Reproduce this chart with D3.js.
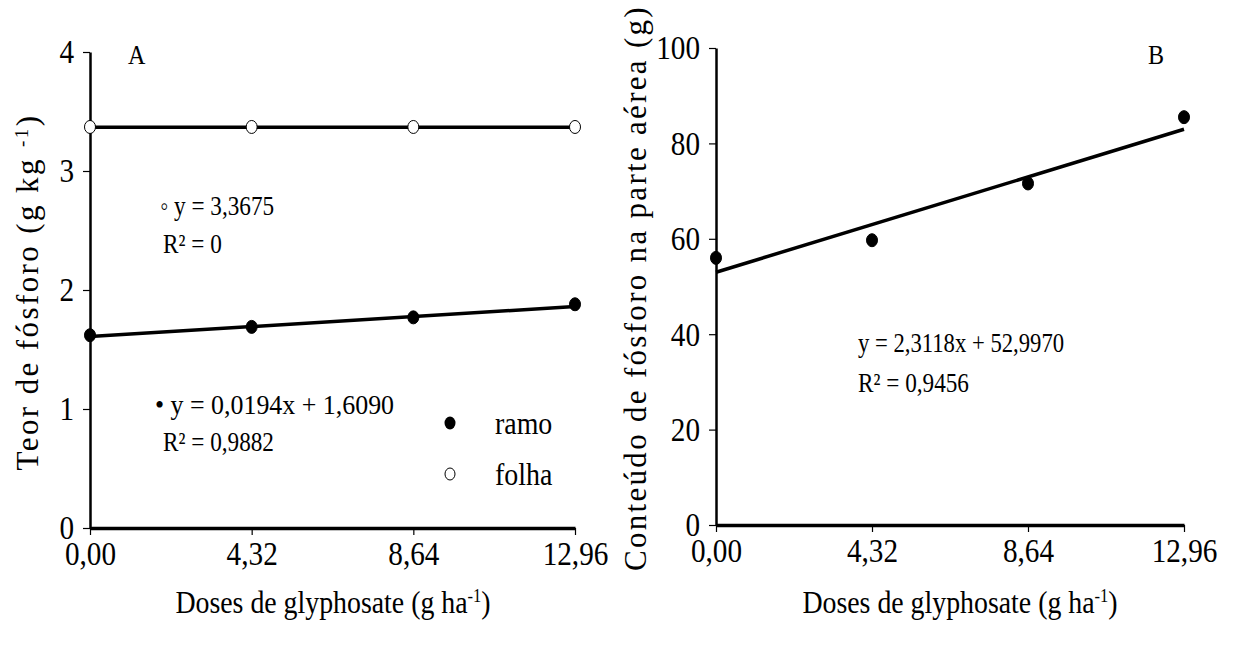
<!DOCTYPE html>
<html>
<head>
<meta charset="utf-8">
<script src="https://d3js.org/d3.v7.min.js"></script>
<style>
  body { margin: 0; background: #fff; }
  svg text { font-family: "Liberation Serif", "Times New Roman", serif; fill: #000; }
</style>
</head>
<body>
<svg id="chart" width="1245" height="646"></svg>
<script>

// data
var doses = [0, 4.32, 8.64, 12.96];
var doseLabels = ["0,00", "4,32", "8,64", "12,96"];
var ramo = [1.62, 1.69, 1.77, 1.88];
var folha = [3.37, 3.37, 3.37, 3.37];
var conteudo = [56.0, 59.7, 71.6, 85.5];
var ramoFit = {a: 0.0194, b: 1.6090};
var folhaFit = {a: 0, b: 3.3675};
var conteudoFit = {a: 2.3118, b: 52.9970};
var ticksA = [0, 1, 2, 3, 4];
var ticksB = [0, 20, 40, 60, 80, 100];

var svg = d3.select("#chart");
var SQ = 0.86;   // the original font is a bit narrow, squeeze it

function fmtComma(d) { return String(d).replace(".", ","); }

function drawAxes(x, y, yTicks) {
  var gx = svg.append("g")
      .attr("transform", "translate(0," + y.range()[0] + ")")
      .call(d3.axisBottom(x).tickValues(doses).tickSize(7).tickSizeOuter(0)
        .tickFormat(function(d, i) { return doseLabels[i]; }));
  gx.attr("font-family", null).attr("font-size", null);
  gx.select(".domain").attr("stroke-width", 3.5);
  gx.selectAll(".tick line").attr("stroke-width", 1.2);
  gx.selectAll(".tick text").attr("font-size", 34).attr("transform", "scale(" + SQ + ",1)")
      .attr("y", 37).attr("dy", 0);

  var gy = svg.append("g")
      .attr("transform", "translate(" + x.range()[0] + ",0)")
      .call(d3.axisLeft(y).tickValues(yTicks).tickSize(7).tickSizeOuter(0)
        .tickFormat(fmtComma));
  gy.attr("font-family", null).attr("font-size", null);
  gy.select(".domain").attr("stroke-width", 2.5);
  gy.selectAll(".tick line").attr("stroke-width", 1.2);
  gy.selectAll(".tick text").attr("font-size", 34).attr("transform", "scale(" + SQ + ",1)")
      .attr("x", -16 / SQ).attr("dy", "0.32em");
}

function fitLine(x, y, fit) {
  var line = d3.line().x(function(d) { return x(d); })
      .y(function(d) { return y(fit.a * d + fit.b); });
  svg.append("path")
      .datum([doses[0], doses[doses.length - 1]])
      .attr("fill", "none").attr("stroke", "#000").attr("stroke-width", 3.5)
      .attr("d", line);
}

function points(x, y, vals, filled) {
  svg.append("g").selectAll("ellipse").data(vals).join("ellipse")
      .attr("cx", function(d, i) { return x(doses[i]); })
      .attr("cy", function(d) { return y(d); })
      .attr("rx", 5.5).attr("ry", 6.5)
      .attr("fill", filled ? "#000" : "#fff")
      .attr("stroke", "#000").attr("stroke-width", 1);
}

// narrow text: font drawn bigger, squeezed horizontally
function label(xp, yp, size, txt, sq) {
  return svg.append("text")
      .attr("transform", "translate(" + xp + "," + yp + ") scale(" + (sq || SQ) + ",1)")
      .attr("font-size", size).text(txt);
}

function yTitle(cx, cy, txt, sup, after, ls) {
  var t = svg.append("text")
      .attr("transform", "translate(" + cx + "," + cy + ") rotate(-90)")
      .attr("text-anchor", "middle").attr("font-size", 31)
      .attr("letter-spacing", ls);
  t.append("tspan").text(txt);
  if (sup) t.append("tspan").attr("baseline-shift", "super").attr("font-size", 19).text(sup);
  if (after) t.append("tspan").text(after);
}

function xTitle(cx, cy) {
  var t = svg.append("text")
      .attr("transform", "translate(" + cx + "," + cy + ") scale(0.87,1)")
      .attr("text-anchor", "middle").attr("font-size", 32);
  t.append("tspan").text("Doses de glyphosate (g ha");
  t.append("tspan").attr("baseline-shift", "super").attr("font-size", 19).text("-1");
  t.append("tspan").text(")");
}

// ---- panel A
var xA = d3.scaleLinear().domain([0, 12.96]).range([90, 575]);
var yA = d3.scaleLinear().domain([0, 4]).range([528, 52]);
drawAxes(xA, yA, ticksA);
fitLine(xA, yA, folhaFit);
fitLine(xA, yA, ramoFit);
points(xA, yA, folha, false);
points(xA, yA, ramo, true);

label(128, 64, 28, "A");
label(160, 215, 27, "\u25e6 y = 3,3675");
label(163, 253, 27, "R\u00b2 = 0");
label(155, 414, 27, "\u2022 y = 0,0194x + 1,6090", 0.96);
label(163, 451, 27, "R\u00b2 = 0,9882");

// legend
svg.append("ellipse").attr("cx", 450).attr("cy", 423).attr("rx", 5.5).attr("ry", 6.5).attr("fill", "#000");
svg.append("ellipse").attr("cx", 450).attr("cy", 474).attr("rx", 5).attr("ry", 6)
    .attr("fill", "#fff").attr("stroke", "#000").attr("stroke-width", 1);
label(495, 434, 31, "ramo", 0.9);
label(495, 485, 31, "folha", 0.9);

yTitle(38, 292, "Teor de fósforo (g kg ", "-1", ")", 2.4);
xTitle(333, 613);

// ---- panel B
var xB = d3.scaleLinear().domain([0, 12.96]).range([716, 1184]);
var yB = d3.scaleLinear().domain([0, 100]).range([525, 48]);
drawAxes(xB, yB, ticksB);
fitLine(xB, yB, conteudoFit);
points(xB, yB, conteudo, true);

label(1148, 64, 28, "B");
label(858, 352, 27, "y = 2,3118x + 52,9970", 0.84);
label(858, 392, 27, "R\u00b2 = 0,9456");

yTitle(646, 288, "Conteúdo de fósforo na parte aérea (g)", null, null, 2.3);
xTitle(960, 613);

</script>
</body>
</html>
